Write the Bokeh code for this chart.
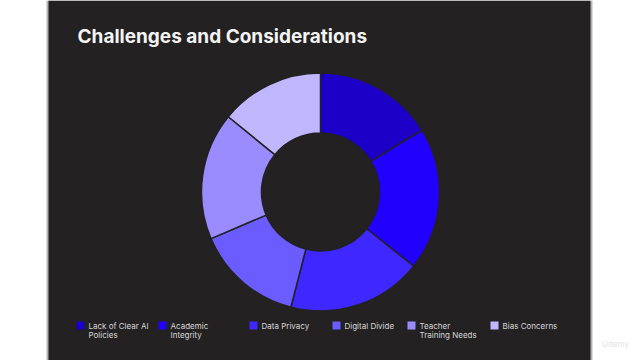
import numpy as np
from bokeh.plotting import figure
from bokeh.models import Range1d, ColumnDataSource
from bokeh.core.properties import value
from bokeh.embed import file_html
from bokeh.resources import INLINE

# ---- data ----
CATEGORIES = ["Lack of Clear AI\nPolicies", "Academic\nIntegrity", "Data Privacy",
              "Digital Divide", "Teacher\nTraining Needs", "Bias Concerns"]
VALUES = [16.3, 19.4, 18.3, 14.6, 17.3, 14.1]
COLORS = ["#1c00c8", "#2200fe", "#3f28ff", "#6b5cff", "#9a8cff", "#c0b7ff"]
TITLE = "Challenges and Considerations"

# ---- layout (pixel-style coordinates, y measured from top) ----
W, H = 640, 360
BG = "#232122"
CX, CY = 320, 191.5
R_OUT, R_IN = 119, 59
LEGEND_X = [76, 158, 249, 332, 407, 490]
LEGEND_Y = 325

def Y(py):
    return H - py

p = figure(width=W, height=H, x_range=Range1d(0, W), y_range=Range1d(0, H),
           output_backend="svg", toolbar_location=None, min_border=0,
           background_fill_color="white", border_fill_color="white",
           outline_line_color=None)
p.axis.visible = False
p.grid.visible = False

# panel with thin gray edges
p.quad(left=[46], right=[592], bottom=[0], top=[H], fill_color="#b5b5b5", line_color=None)
p.quad(left=[48], right=[590], bottom=[0], top=[H], fill_color=BG, line_color=None)

# donut
vals = np.array(VALUES, dtype=float)
frac = vals / vals.sum() * 2 * np.pi
cum_end = np.cumsum(frac)
cum_start = cum_end - frac
src = ColumnDataSource(dict(
    start=np.pi / 2 - cum_end,
    end=np.pi / 2 - cum_start,
    color=COLORS,
))
p.annular_wedge(x=CX, y=Y(CY), inner_radius=R_IN, outer_radius=R_OUT,
                start_angle="start", end_angle="end", source=src,
                fill_color="color", line_color=BG, line_width=1.5)

# title
p.text(x=[77], y=[Y(35.5)], text=[TITLE], text_font=value("Inter"),
       text_font_size="19px", text_font_style="bold", text_color="#f4f4f4",
       text_baseline="alphabetic")

# legend
line1 = [c.split("\n")[0] for c in CATEGORIES]
line2 = [c.split("\n")[1] if "\n" in c else "" for c in CATEGORIES]
lx = np.array(LEGEND_X, dtype=float)
p.rect(x=lx + 4, y=[Y(LEGEND_Y)] * len(lx), width=8, height=8,
       fill_color=COLORS, line_color=None)
p.text(x=lx + 12, y=[Y(325.5)] * len(lx), text=line1, text_font=value("Inter"),
       text_font_size="8px", text_color="#d8d8d8", text_baseline="alphabetic")
p.text(x=lx + 12, y=[Y(334)] * len(lx), text=line2, text_font=value("Inter"),
       text_font_size="8px", text_color="#d8d8d8", text_baseline="alphabetic")

# watermark
p.text(x=[615], y=[Y(343)], text=["Udemy"], text_font=value("Inter"),
       text_font_size="8px", text_color="#e4e4e4", text_align="center",
       text_baseline="middle")

html = file_html(p, INLINE)
html = html.replace("<head>", "<head><style>html,body{margin:0;padding:0;overflow:hidden;}</style>", 1)
open("out.html", "w").write(html)
